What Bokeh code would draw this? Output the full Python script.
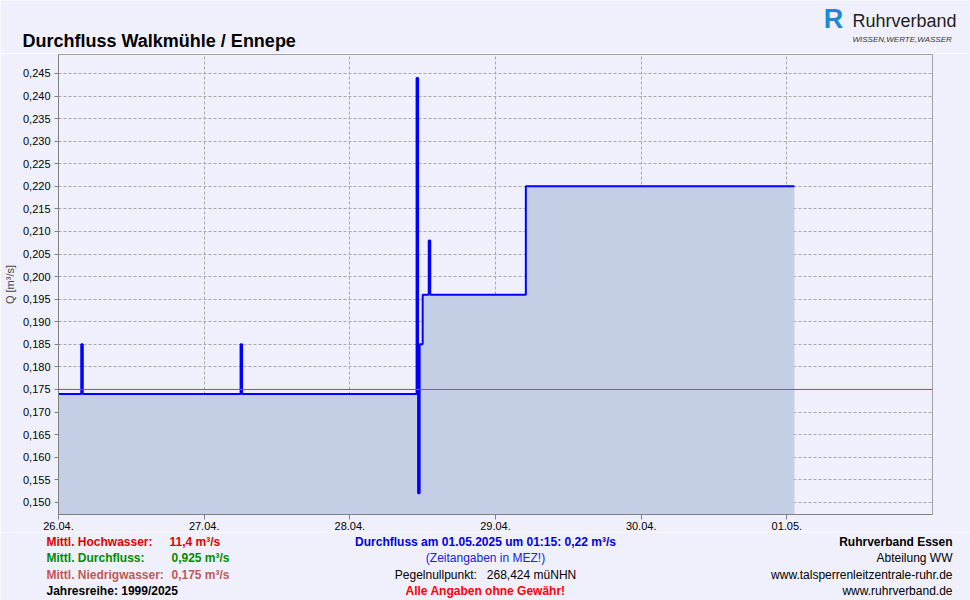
import pandas as pd
from bokeh.plotting import figure
from bokeh.layouts import column, row
from bokeh.models import (ColumnDataSource, Span, FixedTicker,
                          DatetimeTickFormatter, CustomJSTickFormatter, Range1d)
from bokeh.core.properties import value
from bokeh.embed import file_html
from bokeh.resources import INLINE

# ---------------- data ----------------
times = ["2025-04-26 00:00", "2025-04-26 03:45", "2025-04-26 04:00",
         "2025-04-27 06:00", "2025-04-27 06:15", "2025-04-28 11:00",
         "2025-04-28 11:15", "2025-04-28 11:30", "2025-04-28 12:00",
         "2025-04-28 13:00", "2025-04-28 13:15", "2025-04-29 05:00",
         "2025-05-01 01:15"]
flow = [0.174, 0.185, 0.174, 0.185, 0.174, 0.244, 0.152, 0.185, 0.196,
        0.208, 0.196, 0.220, 0.220]
mnq = 0.175
x_start = "2025-04-26 00:00"
x_end = "2025-05-02 00:00"
day_ticks = ["2025-04-26", "2025-04-27", "2025-04-28", "2025-04-29",
             "2025-04-30", "2025-05-01"]
y_ticks = [0.150, 0.155, 0.160, 0.165, 0.170, 0.175, 0.180, 0.185, 0.190,
           0.195, 0.200, 0.205, 0.210, 0.215, 0.220, 0.225, 0.230, 0.235,
           0.240, 0.245]
y_min, y_max = 0.1473, 0.2492

title_text = "Durchfluss Walkmühle / Ennepe"
y_label = "Q [m³/s]"
stats_labels = ["Mittl. Hochwasser:", "Mittl. Durchfluss:", "Mittl. Niedrigwasser:"]
stats_values = ["11,4 m³/s", "0,925 m³/s", "0,175 m³/s"]
stats_colors = ["#e00000", "#008c00", "#c05858"]
series_text = "Jahresreihe: 1999/2025"
center_lines = ["Durchfluss am 01.05.2025 um 01:15: 0,22 m³/s",
                "(Zeitangaben in MEZ!)",
                "Pegelnullpunkt:\u00a0\u00a0 268,424 müNHN",
                "Alle Angaben ohne Gewähr!"]
right_lines = ["Ruhrverband Essen", "Abteilung WW",
               "www.talsperrenleitzentrale-ruhr.de", "www.ruhrverband.de"]

BG = "#f0f0fc"
FONT = "Liberation Sans"
W = 970
TOP_H = 53          # title strip height (frame top at y=53)
MAIN_H = 479        # main chart: frame 460 + 19 for x tick labels
BOT_H = 600 - TOP_H - MAIN_H


def text_strip(y0, y1):
    f = figure(width=W, height=y1 - y0, output_backend="svg",
               toolbar_location=None, x_axis_location=None,
               y_axis_location=None, x_range=Range1d(0, W),
               y_range=Range1d(y1, y0), min_border=0)
    f.background_fill_color = BG
    f.border_fill_color = BG
    f.outline_line_color = None
    f.grid.visible = False
    return f


def txt(f, x, y, text, color="#000000", size=12, bold=False, italic=False,
        align="left"):
    style = "normal"
    if bold and italic:
        style = "bold italic"
    elif bold:
        style = "bold"
    elif italic:
        style = "italic"
    f.text(x=[x], y=[y], text=[text], text_color=color,
           text_font=value(FONT), text_font_size=f"{size}px",
           text_font_style=style, text_align=align, text_baseline="middle")


# ---------------- top strip ----------------
top = text_strip(0, TOP_H)
txt(top, 22, 40, title_text, size=18, bold=True)
txt(top, 833, 18, "R", color="#1a8ad4", size=27, bold=True, align="center")
txt(top, 852, 20, "Ruhrverband", color="#1e1e1e", size=18)
txt(top, 852, 39, "WISSEN,WERTE,WASSER", color="#333333", size=8, italic=True)

# ---------------- main chart ----------------
src = ColumnDataSource(dict(t=pd.to_datetime(times), q=flow))

fig = figure(width=W, height=MAIN_H, x_axis_type="datetime",
             output_backend="svg", toolbar_location=None,
             x_range=Range1d(pd.Timestamp(x_start), pd.Timestamp(x_end)),
             y_range=Range1d(y_min, y_max),
             min_border_left=58, min_border_right=38,
             min_border_top=1, min_border_bottom=MAIN_H - 461)
fig.background_fill_color = BG
fig.border_fill_color = BG
fig.outline_line_color = "#a0a0a0"

fig.varea_step(x="t", y1=0.0, y2="q", step_mode="after", source=src,
               fill_color="#c4cfe6", fill_alpha=1.0)
fig.add_layout(Span(location=mnq, dimension="width", line_color="#9a5656",
                    line_width=1))
fig.step(x="t", y="q", mode="after", source=src, line_color="#0000ff",
         line_width=2)

xt = [pd.Timestamp(d).value / 1e6 for d in day_ticks]
fig.xaxis.ticker = FixedTicker(ticks=xt)
fmt = "%d.%m."
fig.xaxis.formatter = DatetimeTickFormatter(
    microseconds=fmt, milliseconds=fmt, seconds=fmt, minsec=fmt, minutes=fmt,
    hourmin=fmt, hours=fmt, days=fmt, months=fmt, years=fmt)
fig.yaxis.ticker = FixedTicker(ticks=y_ticks)
fig.yaxis.formatter = CustomJSTickFormatter(
    code="return tick.toFixed(3).replace('.', ',');")
for ax in (fig.xaxis, fig.yaxis):
    ax.axis_line_color = "#808080"
    ax.major_tick_line_color = "#808080"
    ax.major_tick_in = 0
    ax.minor_tick_line_color = None
    ax.major_label_text_font = FONT
    ax.major_label_text_font_size = "11px"
    ax.major_label_text_color = "#000000"
fig.xaxis.major_tick_out = 5
fig.xaxis.major_label_standoff = 2
fig.yaxis.major_tick_out = 4
fig.yaxis.major_label_standoff = 4
fig.yaxis.axis_label = y_label
fig.yaxis.axis_label_text_font = FONT
fig.yaxis.axis_label_text_font_size = "11px"
fig.yaxis.axis_label_text_font_style = "normal"
fig.yaxis.axis_label_standoff = 4

fig.grid.grid_line_color = "#a8a8a8"
fig.grid.grid_line_dash = "3 2"
fig.grid.grid_line_width = 1

# ---------------- bottom strip ----------------
y0 = TOP_H + MAIN_H
bot = text_strip(y0, 600)
rows_y = [541, 557, 574, 590]
for i in range(3):
    txt(bot, 46, rows_y[i], stats_labels[i], color=stats_colors[i], bold=True)
    txt(bot, 169 if i == 0 else 171, rows_y[i], stats_values[i],
        color=stats_colors[i], bold=True)
txt(bot, 46, rows_y[3], series_text, bold=True)

center_colors = ["#0000e0", "#2020e0", "#000000", "#ff0000"]
center_bold = [True, False, False, True]
for i, t in enumerate(center_lines):
    txt(bot, 485, rows_y[i], t, color=center_colors[i], bold=center_bold[i],
        align="center")
for i, t in enumerate(right_lines):
    txt(bot, 952, rows_y[i], t, bold=(i == 0), align="right")

p = column(row(top), row(fig), row(bot), spacing=0)
open("out.html", "w").write(file_html(p, INLINE))
